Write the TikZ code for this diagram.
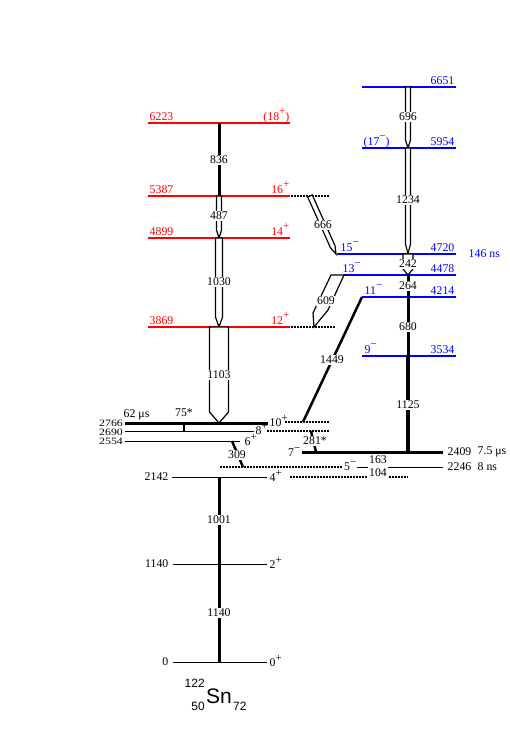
\documentclass[tikz,border=0pt]{standalone}
\usepackage{fontspec}
\setmainfont{Liberation Serif}
\newfontfamily\helv{Liberation Sans}
\usetikzlibrary{calc}
\definecolor{levred}{RGB}{255,0,0}
\definecolor{levblue}{RGB}{0,0,255}
\newcommand{\upsign}[1]{\raisebox{0.45em}{\fontsize{11}{11}\selectfont #1}}
\newcommand{\squash}[1]{\scalebox{1}[0.82]{#1}}
\newcommand{\oarrow}[4]{%
  \coordinate (oah) at ($(#2)!#4!(#1)$);
  \draw[oarr] ($(#1)!#3!90:(#2)$) -- ($(oah)!#3!-90:(#1)$) -- (#2) -- ($(oah)!#3!90:(#1)$) -- ($(#1)!#3!-90:(#2)$) -- cycle;}
\tikzset{
  redlev/.style={draw=levred, line width=2pt},
  bluelev/.style={draw=levblue, line width=2pt},
  thicklev/.style={draw=black, line width=3pt},
  thinlev/.style={draw=black, line width=1pt},
  dotlev/.style={draw=black, line width=1.5pt, dash pattern=on 1.5pt off 1.5pt},
  trans/.style={draw=black, line width=3pt},
  oarr/.style={draw=black, line width=1.2pt, fill=white},
  tlab/.style={fill=white, inner sep=1pt},
  rlab/.style={text=levred},
  blab/.style={text=levblue},
}
\begin{document}
\begin{tikzpicture}[x=1pt,y=-1pt,
  every node/.style={font=\fontsize{11.8}{13}\selectfont, inner sep=0.5pt}]
\useasboundingbox[fill=white] (0,0) rectangle (510,736);

% ---------------- levels ----------------
\draw[redlev] (148,123) -- (290,123);
\draw[redlev] (148,196) -- (290,196);
\draw[redlev] (148,238) -- (290,238);
\draw[redlev] (148,327) -- (290,327);
\draw[dotlev] (291,196) -- (329,196);
\draw[dotlev] (291,327) -- (336,327);
\draw[bluelev] (362,87) -- (456,87);
\draw[bluelev] (362,148) -- (456,148);
\draw[bluelev] (337,254) -- (456,254);
\draw[bluelev] (343,275) -- (456,275);
\draw[bluelev] (362,297) -- (456,297);
\draw[bluelev] (362,356) -- (456,356);
\draw[thicklev] (125,423) -- (268,423);
\draw[thinlev] (125,431) -- (254,431);
\draw[thinlev] (125,441) -- (240,441);
\draw[dotlev] (285,422) -- (329,422);
\draw[dotlev] (267,431) -- (329,431);
\draw[thicklev] (302,452) -- (443,452);
\draw[thinlev] (357,467) -- (368,467);
\draw[thinlev] (388,467) -- (443,467);
\draw[dotlev] (220,467) -- (343,467);
\draw[thinlev] (172,477) -- (267,477);
\draw[dotlev] (290,477) -- (408,477);
\draw[thinlev] (173,564) -- (267,564);
\draw[thinlev] (173,662) -- (267,662);

% ---------------- transition end points ----------------
\coordinate (a6223) at (219,123);
\coordinate (a5387) at (219,196);
\coordinate (a4899) at (219,238);
\coordinate (a3869) at (219,327);
\coordinate (a2766) at (219,423);
\coordinate (a2142) at (219,477);
\coordinate (a1140) at (219,564);
\coordinate (a0) at (219,662);
\coordinate (b6651) at (408,87);
\coordinate (b5954) at (408,148);
\coordinate (b4720) at (408,254);
\coordinate (b4478) at (408,275);
\coordinate (b4214) at (408,297);
\coordinate (b3534) at (408,356);
\coordinate (b2409) at (408,452);
\coordinate (c666a) at (310,196);
\coordinate (c666b) at (336,254);
\coordinate (c1449a) at (362,297);
\coordinate (c1449b) at (303,422);
\coordinate (c309a) at (232,441);
\coordinate (c309b) at (243,467);
\coordinate (c281a) at (311,431);
\coordinate (c281b) at (316,452);
\coordinate (c75a) at (184,423);
\coordinate (c75b) at (184,431);

% ---------------- transitions ----------------
\draw[trans] (a6223) -- (a5387);
\oarrow{a5387}{a4899}{2.5pt}{8pt}
\oarrow{a4899}{a3869}{3.5pt}{10pt}
\oarrow{a3869}{a2766}{9.5pt}{11pt}
\draw[trans] (a2142) -- (a1140);
\draw[trans] (a1140) -- (a0);
\oarrow{b6651}{b5954}{2.5pt}{8pt}
\oarrow{b5954}{b4720}{2.5pt}{10pt}
\oarrow{b4720}{b4478}{5pt}{6pt}
\draw[trans] (b4478) -- (b4214);
\draw[trans] (b4214) -- (b3534);
\draw[trans, line width=4pt] (b3534) -- (b2409);
\oarrow{c666a}{c666b}{2.5pt}{8pt}
\draw[oarr] (331,275) -- (313,313) -- (314,327) -- (328,310) -- (344,275) -- cycle;
\draw[trans, line width=2.5pt] (c1449a) -- (c1449b);
\draw[trans, line width=2.5pt] (c309a) -- (c309b);
\draw[trans, line width=2.5pt] (c281a) -- (c281b);
\draw[trans, line width=2pt] (c75a) -- (c75b);

% ---------------- transition labels ----------------
\node[tlab] (g836) at (219,160) {836};
\node[tlab] (g487) at (219,216) {487};
\node[tlab] (g1030) at (219,282) {1030};
\node[tlab] (g1103) at (219,375) {1103};
\node[tlab] (g1001) at (219,520) {1001};
\node[tlab] (g1140) at (219,613) {1140};
\node[tlab] (g696) at (408,117) {696};
\node[tlab] (g1234) at (408,200) {1234};
\node[tlab] (g242) at (408,264) {242};
\node[tlab] (g264) at (408,286) {264};
\node[tlab] (g680) at (408,327) {680};
\node[tlab] (g1125) at (408,405) {1125};
\node[tlab] (g666) at (323,225) {666};
\node[tlab] (g609) at (326,301) {609};
\node[tlab] (g1449) at (332,360) {1449};
\node[tlab] (g309) at (237,455) {309};
\node[tlab] (g281) at (315,441) {281*};
\node (g75) at (184,413) {75*};
\node[tlab] (g163) at (378,460) {163};
\node[tlab] (g104) at (378,473) {104};

% ---------------- level labels ----------------
\node[rlab, anchor=base west] (e6223) at (149,120) {6223};
\node[rlab, anchor=base east] (j6223) at (290,120) {(18\upsign{+})};
\node[rlab, anchor=base west] (e5387) at (149,193) {5387};
\node[rlab, anchor=base east] (j5387) at (290,193) {16\upsign{+}};
\node[rlab, anchor=base west] (e4899) at (149,235) {4899};
\node[rlab, anchor=base east] (j4899) at (290,235) {14\upsign{+}};
\node[rlab, anchor=base west] (e3869) at (149,324) {3869};
\node[rlab, anchor=base east] (j3869) at (290,324) {12\upsign{+}};

\node[blab, anchor=base east] (e6651) at (455,84) {6651};
\node[blab, anchor=base west] (j5954) at (363,145) {(17\upsign{−})};
\node[blab, anchor=base east] (e5954) at (455,145) {5954};
\node[blab, anchor=base west] (j4720) at (340,251) {15\upsign{−}};
\node[blab, anchor=base east] (e4720) at (455,251) {4720};
\node[blab, anchor=west] (t4720) at (468,254) {146 ns};
\node[blab, anchor=base west] (j4478) at (342,272) {13\upsign{−}};
\node[blab, anchor=base east] (e4478) at (455,272) {4478};
\node[blab, anchor=base west] (j4214) at (364,294) {11\upsign{−}};
\node[blab, anchor=base east] (e4214) at (455,294) {4214};
\node[blab, anchor=base west] (j3534) at (364,353) {9\upsign{−}};
\node[blab, anchor=base east] (e3534) at (455,353) {3534};

\node[anchor=east, inner sep=0pt] (e2766) at (123,423) {\squash{2766}};
\node[anchor=east, inner sep=0pt] (e2690) at (123,432) {\squash{2690}};
\node[anchor=east, inner sep=0pt] (e2554) at (123,441) {\squash{2554}};
\node[anchor=base west] (t2766) at (123,417) {62 μs};
\node[anchor=west] (j2766) at (269,421) {10\upsign{+}};
\node[anchor=west] (j2690) at (255,429) {8\upsign{+}};
\node[anchor=west] (j2554) at (244,440) {6\upsign{+}};
\node[anchor=east] (j2409) at (301,452) {7\upsign{−}};
\node[anchor=west] (e2409) at (447,452) {2409};
\node[anchor=west] (t2409) at (477,452) {7.5 μs};
\node[anchor=east] (j2246) at (357,466) {5\upsign{−}};
\node[anchor=west] (e2246) at (447,467) {2246};
\node[anchor=west] (t2246) at (477,467) {8 ns};
\node[anchor=east] (e2142) at (169,477) {2142};
\node[anchor=west] (j2142) at (269,476) {4\upsign{+}};
\node[anchor=east] (e1140) at (169,564) {1140};
\node[anchor=west] (j1140) at (269,563) {2\upsign{+}};
\node[anchor=east] (e0) at (169,662) {0};
\node[anchor=west] (j0) at (269,661) {0\upsign{+}};

% ---------------- nucleus ----------------
\node[anchor=base, font=\helv\fontsize{21}{24}\selectfont] (sn) at (219,703) {Sn};
\node[anchor=base east, font=\helv\fontsize{12}{14}\selectfont] (mass) at (sn.base west) [yshift=16pt] {122};
\node[anchor=base east, font=\helv\fontsize{12}{14}\selectfont] (zz) at (sn.base west) [yshift=-7pt] {50};
\node[anchor=base west, font=\helv\fontsize{12}{14}\selectfont] (nn) at (sn.base east) [yshift=-7pt] {72};
\end{tikzpicture}
\end{document}
